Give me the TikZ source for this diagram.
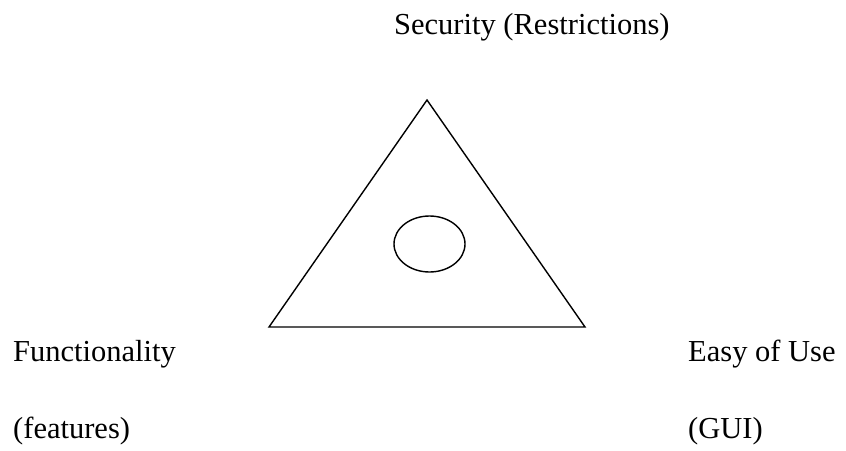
\documentclass[tikz,border=0pt]{standalone}
\usepackage{fontspec}
\setmainfont{Liberation Serif}
\usetikzlibrary{shapes.geometric}
\tikzset{
 caption/.style={anchor=base west,inner sep=0pt,font=\fontsize{30.5}{36}\selectfont},
 edge/.style={line width=1.4pt,line join=miter},
 core/.style={draw,ellipse,line width=1.4pt,minimum width=71pt,minimum height=56pt,inner sep=0pt}
}
\begin{document}
\begin{tikzpicture}[x=1pt,y=-1pt]
\useasboundingbox (0,0) rectangle (846,450);
\coordinate (top) at (427,100);
\coordinate (left) at (269,327);
\coordinate (right) at (585,327);
\draw[edge] (top) -- (right) -- (left) -- cycle;
\node[core] (balance) at (429.5,244) {};
\node[caption] (security) at (394,34) {Security (Restrictions)};
\node[caption] (func) at (13,361) {Functionality};
\node[caption] (feat) at (13,438) {(features)};
\node[caption] (ease) at (688,361) {Easy of Use};
\node[caption] (gui) at (688,438) {(GUI)};
\end{tikzpicture}
\end{document}
